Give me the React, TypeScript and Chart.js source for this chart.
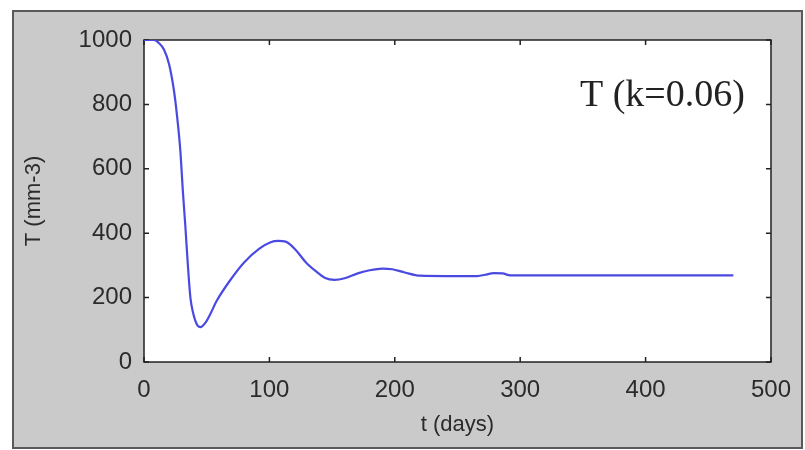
import React, { useEffect, useRef } from "react";
import { Chart, registerables } from "chart.js";

Chart.register(...registerables);

const tDays = [0, 8, 12, 16, 20, 24, 27, 29, 31, 33, 35, 37, 39, 42, 45, 49, 53, 58, 68, 80, 92, 101, 107, 113, 121, 129, 137, 144, 152, 160, 171, 180, 190, 198, 208, 220, 240, 266, 272, 279, 286, 292, 320, 400, 470];
const tValues = [1000, 1000, 990, 970, 925, 840, 740, 655, 530, 420, 300, 200, 155, 118, 108, 122, 150, 190, 250, 310, 352, 372, 376, 374, 348, 310, 282, 262, 255, 260, 276, 285, 290, 288, 278, 268, 267, 267, 271, 276, 275, 269, 269, 269, 269];
const xTicks = [0, 100, 200, 300, 400, 500];
const yTicks = [0, 200, 400, 600, 800, 1000];
const annotationText = "T (k=0.06)";
const xTitle = "t (days)";
const yTitle = "T (mm-3)";

const framePlugin = {
  id: "frame",
  beforeDraw(chart: any) {
    const { ctx, width, height } = chart;
    ctx.save();
    ctx.fillStyle = "#ffffff";
    ctx.fillRect(0, 0, width, height);
    ctx.fillStyle = "#cacaca";
    ctx.fillRect(13, 11, 789, 437);
    ctx.strokeStyle = "#5a5a5a";
    ctx.lineWidth = 2;
    ctx.strokeRect(13, 11, 789, 437);
    const a = chart.chartArea;
    ctx.fillStyle = "#ffffff";
    ctx.fillRect(a.left, a.top, a.right - a.left, a.bottom - a.top);
    ctx.restore();
  },
  beforeDatasetsDraw(chart: any) {
    const { ctx } = chart;
    const a = chart.chartArea;
    const xs = chart.scales.x;
    const ys = chart.scales.y;
    ctx.save();
    ctx.strokeStyle = "#222222";
    ctx.lineWidth = 1.5;
    ctx.strokeRect(a.left, a.top, a.right - a.left, a.bottom - a.top);
    ctx.beginPath();
    const len = 5;
    xTicks.forEach((v) => {
      const px = xs.getPixelForValue(v);
      ctx.moveTo(px, a.bottom);
      ctx.lineTo(px, a.bottom - len);
      ctx.moveTo(px, a.top);
      ctx.lineTo(px, a.top + len);
    });
    yTicks.forEach((v) => {
      const py = ys.getPixelForValue(v);
      ctx.moveTo(a.left, py);
      ctx.lineTo(a.left + len, py);
      ctx.moveTo(a.right, py);
      ctx.lineTo(a.right - len, py);
    });
    ctx.stroke();
    ctx.restore();
  },
  afterDatasetsDraw(chart: any) {
    const { ctx } = chart;
    ctx.save();
    ctx.fillStyle = "#222222";
    ctx.font = '38px "Liberation Serif", "Times New Roman", serif';
    ctx.textBaseline = "alphabetic";
    ctx.textAlign = "left";
    ctx.fillText(annotationText, 580, 106);
    ctx.restore();
  },
};

export default function App() {
  const ref = useRef<HTMLCanvasElement | null>(null);
  useEffect(() => {
    document.body.style.margin = "0";
    const canvas = ref.current;
    if (!canvas) return;
    const chart = new Chart(canvas, {
      type: "line",
      data: {
        datasets: [
          {
            data: tDays.map((t, i) => ({ x: t, y: tValues[i] })),
            borderColor: "#4a4ae2",
            borderWidth: 2.2,
            pointRadius: 0,
            cubicInterpolationMode: "monotone",
            fill: false,
          },
        ],
      },
      options: {
        animation: false,
        responsive: true,
        maintainAspectRatio: false,
        layout: { padding: { left: 0, top: 40, right: 29, bottom: 0 } },
        plugins: { legend: { display: false }, tooltip: { enabled: false } },
        scales: {
          x: {
            type: "linear",
            min: 0,
            max: 500,
            afterBuildTicks: (s: any) => {
              s.ticks = xTicks.map((v) => ({ value: v }));
            },
            afterFit: (s: any) => {
              s.height = 88;
            },
            grid: { display: false, drawTicks: false },
            border: { display: false },
            ticks: {
              padding: 14,
              color: "#2b2b2b",
              font: { family: '"Liberation Sans", Arial, sans-serif', size: 24 },
              maxRotation: 0,
              callback: (v: any) => String(v),
            },
            title: {
              display: true,
              text: xTitle,
              color: "#2b2b2b",
              font: { family: '"Liberation Sans", Arial, sans-serif', size: 22 },
              padding: { top: 0, bottom: 12 },
            },
          },
          y: {
            type: "linear",
            min: 0,
            max: 1000,
            afterBuildTicks: (s: any) => {
              s.ticks = yTicks.map((v) => ({ value: v }));
            },
            afterFit: (s: any) => {
              s.width = 144;
            },
            grid: { display: false, drawTicks: false },
            border: { display: false },
            ticks: {
              padding: 12,
              color: "#2b2b2b",
              font: { family: '"Liberation Sans", Arial, sans-serif', size: 24 },
              callback: (v: any) => String(v),
            },
            title: {
              display: true,
              text: yTitle,
              color: "#2b2b2b",
              font: { family: '"Liberation Sans", Arial, sans-serif', size: 22 },
              padding: { top: 21, bottom: 0 },
            },
          },
        },
      },
      plugins: [framePlugin],
    } as any);
    return () => chart.destroy();
  }, []);
  return (
    <div style={{ position: "absolute", left: 0, top: 0, width: 805, height: 450 }}>
      <canvas ref={ref} />
    </div>
  );
}
